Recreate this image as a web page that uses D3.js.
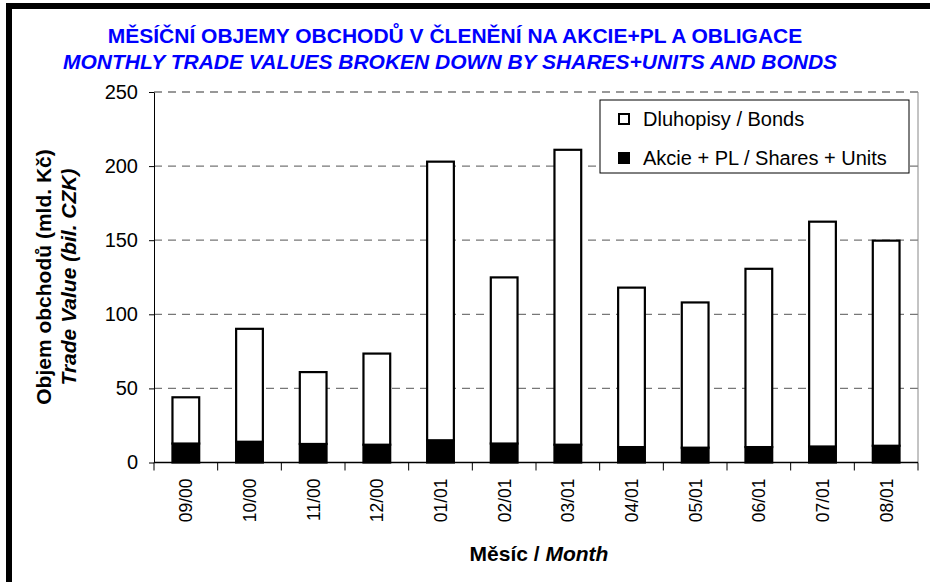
<!DOCTYPE html>
<html>
<head>
<meta charset="utf-8">
<script src="https://cdn.jsdelivr.net/npm/d3@7"></script>
<style>
  body { margin: 0; background: #fff; }
  svg { display: block; font-family: Arial, "Liberation Sans", sans-serif; }
  .grid line { stroke: #777; stroke-dasharray: 8, 6; stroke-width: 1.3; }
  .axis path, .axis line { stroke: #000; }
  .axis text { font-size: 20px; fill: #000; }
</style>
</head>
<body>
<div id="chart"></div>
<script>
(function stackedbars() {

  var months = ["09/00", "10/00", "11/00", "12/00", "01/01", "02/01",
                "03/01", "04/01", "05/01", "06/01", "07/01", "08/01"];
  // Akcie + PL / Shares + Units (mld. Kč)
  var shares = [12.8, 14, 12.5, 12, 15, 12.8, 12, 10.4, 10, 10.4, 10.8, 11.3];
  // Dluhopisy / Bonds (mld. Kč)
  var bonds = [31.2, 76.2, 48.5, 61.5, 188, 112.1, 199, 107.6, 98, 120.3, 151.7, 138.4];
  var yTicks = [0, 50, 100, 150, 200, 250];

  var margin = { top: 92, right: 12, bottom: 120, left: 154 },
    W = 930, H = 582,
    width = 918 - margin.left,
    height = 462.5 - margin.top;

  var svg = d3.select("#chart").append("svg")
    .attr("width", W)
    .attr("height", H);

  // frame
  svg.append("rect")
    .attr("x", 9).attr("y", 6)
    .attr("width", 1000).attr("height", 1000)
    .attr("fill", "#fff")
    .attr("stroke", "#000")
    .attr("stroke-width", 6);

  var x = d3.scaleBand()
    .domain(months)
    .range([0, width])
    .paddingInner(0.58)
    .paddingOuter(0.29);

  var y = d3.scaleLinear()
    .domain([0, 250])
    .range([height, 0]);

  var g = svg.append("g")
    .attr("transform", "translate(" + margin.left + "," + margin.top + ")");

  // gridlines
  g.append("g")
    .attr("class", "grid")
    .selectAll("line")
    .data(yTicks.filter(function(d) { return d > 0; }))
    .enter().append("line")
    .attr("x1", 0).attr("x2", width)
    .attr("y1", function(d) { return y(d); })
    .attr("y2", function(d) { return y(d); });

  // right border of plot
  g.append("line")
    .attr("x1", width).attr("x2", width)
    .attr("y1", 0).attr("y2", height)
    .attr("stroke", "#888")
    .attr("stroke-width", 1);

  var data = months.map(function(m, i) {
    return { month: m, shares: shares[i], bonds: bonds[i] };
  });

  var stack = d3.stack().keys(["shares", "bonds"]);
  var series = stack(data);

  var fills = { shares: "#000", bonds: "#fff" };

  g.selectAll(".series")
    .data(series)
    .enter().append("g")
    .attr("class", "series")
    .attr("fill", function(s) { return fills[s.key]; })
    .selectAll("rect")
    .data(function(s) { return s; })
    .enter().append("rect")
    .attr("x", function(d) { return x(d.data.month); })
    .attr("width", x.bandwidth())
    .attr("y", function(d) { return y(d[1]); })
    .attr("height", function(d) { return y(d[0]) - y(d[1]); })
    .attr("stroke", "#000")
    .attr("stroke-width", 2.2);

  // y axis
  g.append("g")
    .attr("class", "axis")
    .call(d3.axisLeft(y).tickValues(yTicks).tickSize(5).tickPadding(11).tickSizeOuter(0));

  // x axis with ticks between categories
  var xa = g.append("g")
    .attr("class", "axis")
    .attr("transform", "translate(0," + height + ")");
  xa.append("line")
    .attr("x1", 0).attr("x2", width)
    .attr("stroke", "#000").attr("stroke-width", 1.5);
  var step = x.step();
  xa.selectAll(".tk")
    .data(d3.range(months.length + 1))
    .enter().append("line")
    .attr("class", "tk")
    .attr("x1", function(i) { return i * step; })
    .attr("x2", function(i) { return i * step; })
    .attr("y1", 0).attr("y2", 8);
  xa.selectAll(".lbl")
    .data(months)
    .enter().append("text")
    .attr("class", "lbl")
    .attr("text-anchor", "end")
    .attr("transform", function(d) {
      return "translate(" + (x(d) + x.bandwidth() / 2 + 6.5) + ",16) rotate(-90)";
    })
    .style("font-size", "17.5px")
    .text(function(d) { return d; });

  // titles
  svg.append("text")
    .attr("x", 455).attr("y", 43)
    .attr("text-anchor", "middle")
    .attr("fill", "#0000ff")
    .style("font-size", "21px").style("font-weight", "bold")
    .text("MĚSÍČNÍ OBJEMY OBCHODŮ V ČLENĚNÍ NA AKCIE+PL A OBLIGACE");
  svg.append("text")
    .attr("x", 450).attr("y", 69)
    .attr("text-anchor", "middle")
    .attr("fill", "#0000ff")
    .style("font-size", "21px").style("font-weight", "bold").style("font-style", "italic")
    .text("MONTHLY TRADE VALUES BROKEN DOWN BY SHARES+UNITS AND BONDS");

  // y axis title
  var yt = svg.append("text")
    .attr("transform", "translate(51,277) rotate(-90)")
    .attr("text-anchor", "middle")
    .style("font-size", "21px").style("font-weight", "bold");
  yt.append("tspan").attr("x", 0).attr("y", 0).text("Objem obchodů (mld. Kč)");
  yt.append("tspan").attr("x", 0).attr("y", 25).style("font-style", "italic").text("Trade Value (bil. CZK)");

  // x axis title
  var xt = svg.append("text")
    .attr("x", 539).attr("y", 561)
    .attr("text-anchor", "middle")
    .style("font-size", "21px").style("font-weight", "bold");
  xt.append("tspan").text("Měsíc / ");
  xt.append("tspan").style("font-style", "italic").text("Month");

  // legend
  var lg = svg.append("g").attr("transform", "translate(600,100)");
  lg.append("rect")
    .attr("width", 309).attr("height", 73)
    .attr("fill", "#fff").attr("stroke", "#000").attr("stroke-width", 1);
  var items = [
    { label: "Dluhopisy / Bonds", fill: "#fff" },
    { label: "Akcie + PL / Shares + Units", fill: "#000" }
  ];
  var li = lg.selectAll(".li")
    .data(items)
    .enter().append("g")
    .attr("class", "li")
    .attr("transform", function(d, i) { return "translate(19," + (19 + i * 39) + ")"; });
  li.append("rect")
    .attr("x", 0).attr("y", -5)
    .attr("width", 10).attr("height", 10)
    .attr("fill", function(d) { return d.fill; })
    .attr("stroke", "#000").attr("stroke-width", 2);
  li.append("text")
    .attr("x", 24).attr("y", 7)
    .style("font-size", "20px")
    .text(function(d) { return d.label; });

})();
</script>
</body>
</html>
